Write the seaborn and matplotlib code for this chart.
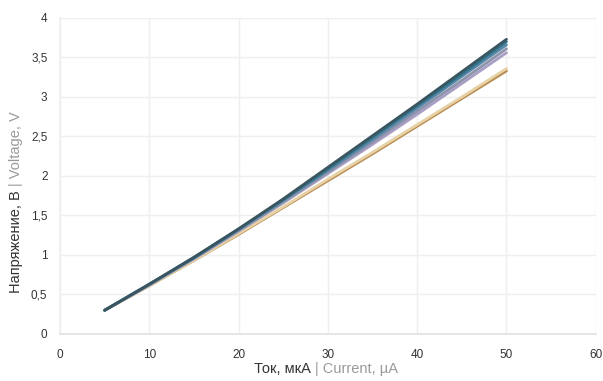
import matplotlib
matplotlib.use("Agg")
import matplotlib.pyplot as plt
import seaborn as sns
import pandas as pd
from matplotlib.ticker import FuncFormatter

# current, uA
current = [5, 10, 15, 20, 25, 30, 35, 40, 45, 50]

# voltage curves, V (bottom series first)
v_g = [0.30, 0.61, 0.93, 1.26, 1.60, 1.94, 2.28, 2.63, 2.98, 3.33]
v_f = [0.30, 0.61, 0.93, 1.27, 1.61, 1.96, 2.30, 2.65, 3.00, 3.36]
v_e = [0.30, 0.62, 0.95, 1.30, 1.66, 2.03, 2.40, 2.78, 3.17, 3.56]
v_d = [0.30, 0.62, 0.96, 1.31, 1.67, 2.05, 2.43, 2.82, 3.21, 3.61]
v_c = [0.30, 0.63, 0.96, 1.32, 1.69, 2.07, 2.46, 2.86, 3.26, 3.66]
v_b = [0.30, 0.63, 0.97, 1.33, 1.70, 2.09, 2.49, 2.89, 3.29, 3.70]
v_a = [0.30, 0.63, 0.97, 1.33, 1.71, 2.11, 2.51, 2.91, 3.32, 3.73]

series_names = ["g", "f", "e", "d", "c", "b", "a"]
series_vals = [v_g, v_f, v_e, v_d, v_c, v_b, v_a]
colors = ["#b98b4f", "#e6d2a6", "#a99ec4", "#8c93aa", "#5a86a8", "#2f7489", "#3a5560"]

x_ticks = [0, 10, 20, 30, 40, 50, 60]
y_ticks = [0, 0.5, 1, 1.5, 2, 2.5, 3, 3.5, 4]

rows = []
for name, vals in zip(series_names, series_vals):
    for i, v in zip(current, vals):
        rows.append({"I": i, "V": v, "s": name})
df = pd.DataFrame(rows)

sns.set_theme(style="whitegrid")
plt.rcParams["font.family"] = ["Liberation Sans", "DejaVu Sans"]

fig = plt.figure(figsize=(6.03, 3.81), dpi=100)
ax = fig.add_axes([0.0995, 0.1234, 0.8885, 0.8294])

sns.lineplot(data=df, x="I", y="V", hue="s", hue_order=series_names,
             palette=colors, linewidth=2.0, legend=False, ax=ax)

ax.set_xlim(0, 60)
ax.set_ylim(0, 4)
ax.set_xticks(x_ticks)
ax.set_yticks(y_ticks)
ax.yaxis.set_major_formatter(FuncFormatter(lambda v, p: f"{v:g}".replace(".", ",")))
ax.grid(True, which="major", color="#efefef", linewidth=1.0)
ax.tick_params(axis="both", which="both", length=0, labelsize=8.5, colors="#333333")
ax.tick_params(axis="x", pad=11)
ax.tick_params(axis="y", pad=9)
ax.set_xlabel("")
ax.set_ylabel("")
for sp in ax.spines.values():
    sp.set_visible(False)
ax.spines["bottom"].set_visible(True)
ax.spines["bottom"].set_color("#e2e2e2")
ax.spines["left"].set_visible(True)
ax.spines["left"].set_color("#f0f0f0")
ax.set_facecolor("white")

# two-tone axis labels
fig.canvas.draw()
r = fig.canvas.get_renderer()

t1 = fig.text(0, 8 / 381, "Ток, мкА ", fontsize=10.5, color="#333333", ha="left", va="baseline")
t2 = fig.text(0, 8 / 381, "| Current, µA", fontsize=10.5, color="#9a9a9a", ha="left", va="baseline")
w1 = t1.get_window_extent(r).width
w2 = t2.get_window_extent(r).width
x0 = 326 - (w1 + w2) / 2
t1.set_x(x0 / 603)
t2.set_x((x0 + w1) / 603)

t3 = fig.text(23 / 603, 0, "Напряжение, В ", fontsize=10.5, color="#333333", rotation=90,
              ha="right", va="bottom")
t4 = fig.text(23 / 603, 0, "| Voltage, V", fontsize=10.5, color="#9a9a9a", rotation=90,
              ha="right", va="bottom")
h1 = t3.get_window_extent(r).height
h2 = t4.get_window_extent(r).height
y0 = (381 - 202) - (h1 + h2) / 2
t3.set_y(y0 / 381)
t4.set_y((y0 + h1) / 381)

fig.savefig("out.png", dpi=100, facecolor="white")
